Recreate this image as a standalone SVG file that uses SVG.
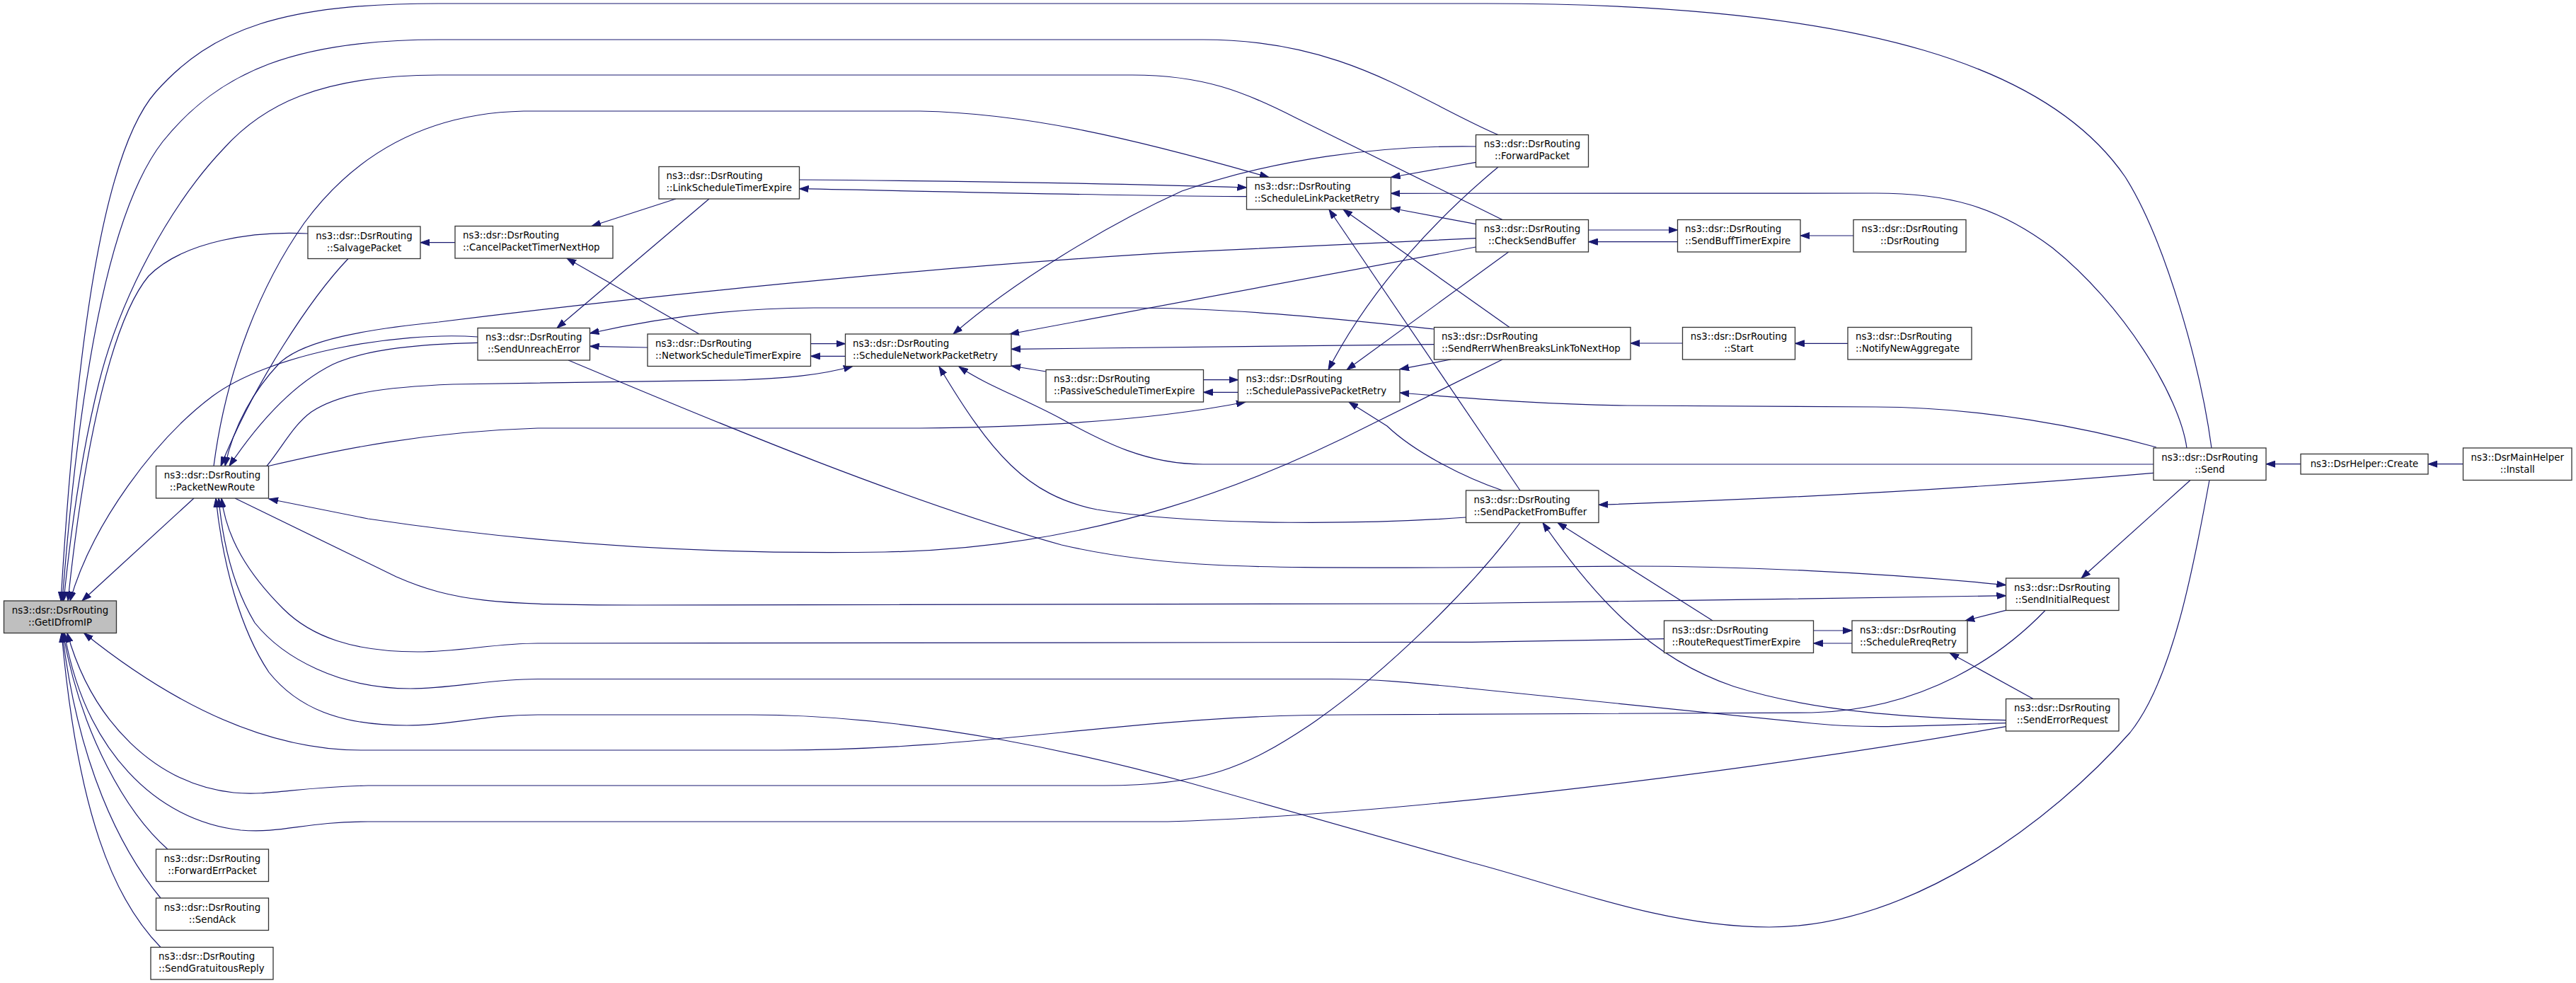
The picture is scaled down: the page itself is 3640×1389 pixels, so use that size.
<svg xmlns="http://www.w3.org/2000/svg" width="3640" height="1389" viewBox="0 0 3640 1389">
<defs>
<style>
.n rect{fill:#fff;stroke:#333;stroke-width:1.3}
.n rect.hl{fill:#bfbfbf}
.n text{font-family:"DejaVu Sans","Liberation Sans",sans-serif;font-size:13.33px;fill:#000}
.c{text-anchor:middle}
.l{text-anchor:start}
.e{fill:none;stroke:#191970;stroke-width:1.2;marker-end:url(#a)}
</style>
<marker id="a" markerWidth="14" markerHeight="10" refX="13" refY="5" orient="auto" markerUnits="userSpaceOnUse"><path d="M0,0.5 L13,5 L0,9.5 z" fill="#191970" stroke="#191970" stroke-width="1"/></marker>
</defs>
<rect x="0" y="0" width="3640" height="1389" fill="#fff"/>
<g id="edges">
<path class="e" d="M274,704 L116,849"/>
<path class="e" d="M435,330 C360,326 260,340 210,390 C160,450 120,620 96,849"/>
<path class="e" d="M675,476 C560,468 380,500 300,560 C220,620 130,740 99,849"/>
<path class="e" d="M3125,633 C3110,520 3060,340 3003,250 C2900,100 2650,5 2100,5 L620,5 C400,5 300,40 220,130 C150,210 110,450 86,849"/>
<path class="e" d="M2117,190.5 C2000,140 1900,56 1700,56 L620,56 C420,56 310,100 230,200 C160,290 115,500 88,849"/>
<path class="e" d="M2123,310.5 L1830,166 C1760,130 1700,106 1600,106 L620,106 C450,106 370,150 316,210 C240,290 170,420 140,540 C115,640 100,750 90,849"/>
<path class="e" d="M237,1200 C180,1150 115,1040 89,894.5"/>
<path class="e" d="M227,1269 C170,1200 110,1080 88,894.5"/>
<path class="e" d="M227,1338.5 C160,1270 110,1150 87,894.5"/>
<path class="e" d="M2890,862.5 C2830,925 2720,1003 2560,1007 L1900,1010 C1600,1010 1400,1060 1100,1060 L510,1060 C380,1060 250,1000 118.6,894.5"/>
<path class="e" d="M2148,738.5 C2080,830 1960,950 1850,1025 C1760,1085 1700,1110 1560,1110 L520,1110 C420,1112 380,1125 330,1120 C220,1108 130,1020 95,894.5"/>
<path class="e" d="M2834.5,1026.7 C2500,1085 2000,1150 1650,1161 L520,1161 C430,1161 400,1178 340,1173 C220,1160 120,1060 91,894.5"/>
<path class="e" d="M2351.5,902.7 L2080,907.4 L760,909 C700,909 650,921 590,921 C500,921 440,900 400,860 C350,810 320,760 313,704"/>
<path class="e" d="M2834.5,1021.7 C2700,1026 2640,1030 2560,1022 L2080,973 C2000,965 1950,959.5 1880,959.5 L760,959.5 C690,959.5 640,973 580,973 C480,973 400,930 360,880 C330,830 315,770 309,704"/>
<path class="e" d="M3122,678.5 C3100,800 3070,960 3010,1035 C2900,1160 2700,1310 2500,1310 C2350,1310 2200,1250 2080,1219 L1680,1106 C1550,1070 1300,1010 1060,1010 L760,1010 C680,1010 640,1025 575,1025 C480,1025 420,1000 380,950 C340,890 315,800 305,704"/>
<path class="e" d="M2123,508 L1937,600 C1780,680 1550,775 1250,780 C950,785 700,760 520,733 L380,705"/>
<path class="e" d="M2071.5,731 C1950,740 1700,745 1550,720 C1450,700 1400,640 1327,518"/>
<path class="e" d="M3043,656 L1700,656 C1620,656 1560,625 1500,592 C1440,560 1395,545 1355,518"/>
<path class="e" d="M3043,668.3 C2850,685 2600,702 2259,713.3"/>
<path class="e" d="M3047,632 C2950,605 2800,575 2650,575 L2300,573 C2200,572 2100,565 1978,555"/>
<path class="e" d="M3090,633 C3080,560 3000,430 2900,350 C2820,290 2750,273 2650,273 L1965.5,273.3"/>
<path class="e" d="M3095,678.5 L2941,817"/>
<path class="e" d="M2834.5,862.3 L2777,877"/>
<path class="e" d="M2562.5,891 L2617,891"/>
<path class="e" d="M2617,909 L2562.5,909"/>
<path class="e" d="M2873,987.5 L2755,922.5"/>
<path class="e" d="M2420,877 L2201,738.5"/>
<path class="e" d="M2834.5,1017.7 C2700,1015 2560,1005 2450,970 C2330,930 2250,840 2180,738.5"/>
<path class="e" d="M2148,693 L1878,296"/>
<path class="e" d="M2123,693 C2070,675 2000,640 1960,602 L1906,568"/>
<path class="e" d="M2133,462.5 L1898,296"/>
<path class="e" d="M2085.5,316.7 L1965.5,294"/>
<path class="e" d="M2085.5,229.3 L1965.5,250.5"/>
<path class="e" d="M2085.5,207 C1950,205 1800,225 1670,270 C1560,320 1430,400 1347,472"/>
<path class="e" d="M2117,236 C2040,300 1940,400 1877,522.5"/>
<path class="e" d="M2085.5,349 L1427,472"/>
<path class="e" d="M2085.5,336.7 L1660,356.7 C1300,378 900,420 620,455 C520,465 430,480 395,513 C360,550 330,600 318,658.5"/>
<path class="e" d="M2131.7,356 L1903,522.5"/>
<path class="e" d="M2244.5,325 L2370.5,325"/>
<path class="e" d="M2370.5,341.7 L2244.5,341.7"/>
<path class="e" d="M2619,333 L2544,333"/>
<path class="e" d="M2377.5,485 L2304,485"/>
<path class="e" d="M2611,485.3 L2536.5,485.3"/>
<path class="e" d="M3251,655.7 L3202,655.7"/>
<path class="e" d="M3480.5,655.7 L3431,655.7"/>
<path class="e" d="M2026.5,465 C1900,452 1750,435 1600,435 L1150,435 C1050,435 950,445 833.5,471"/>
<path class="e" d="M2026.5,486.7 L1429,493.3"/>
<path class="e" d="M2050,508 L1978,521.7"/>
<path class="e" d="M1478,525 L1429,517"/>
<path class="e" d="M1700.5,536.7 L1749.5,536.7"/>
<path class="e" d="M1749.5,554.3 L1700.5,554.3"/>
<path class="e" d="M379.5,658.5 C480,635 600,610 760,605 L1300,605 C1500,603 1650,590 1760,568"/>
<path class="e" d="M377,658.5 C400,630 415,600 440,582 C480,556 540,547 640,543 L1040,537 C1110,535 1160,530 1205,517.5"/>
<path class="e" d="M302,658.5 C320,520 370,400 430,315 C500,220 600,160 740,157 L1300,157 C1450,160 1600,195 1793,250.5"/>
<path class="e" d="M492,365.5 C440,420 360,540 312,658.5"/>
<path class="e" d="M643,342.7 L594,342.7"/>
<path class="e" d="M955,281 L836,319.5"/>
<path class="e" d="M1002,281 L787,463.5"/>
<path class="e" d="M988,472 L801,365"/>
<path class="e" d="M915,491 L833.5,489.3"/>
<path class="e" d="M1129.5,254 C1400,256 1600,260 1761.5,265"/>
<path class="e" d="M1761.5,277.7 C1600,277 1400,272 1129.5,266.7"/>
<path class="e" d="M1145.5,485.7 L1194.5,485.7"/>
<path class="e" d="M1194.5,503.3 L1145.5,503.3"/>
<path class="e" d="M803,509 C950,570 1250,700 1500,770 C1650,805 1800,802 2040,802 L2300,800 C2450,800 2650,808 2834.5,826.7"/>
<path class="e" d="M675,484.3 C600,486 520,492 470,515 C420,540 370,590 324,658.5"/>
<path class="e" d="M332,704 L560,815 C640,850 700,855 900,855 L2040,853 C2300,850 2600,845 2834.5,841.7"/>
</g>
<g id="node-GetIDfromIP" class="n"><rect class="hl" x="5.5" y="849" width="159" height="45.5"/><text class="c" x="85" y="866.8">ns3::dsr::DsrRouting</text><text class="c" x="85" y="883.8">::GetIDfromIP</text></g>
<g id="node-PacketNewRoute" class="n"><rect x="220.5" y="658.5" width="159" height="45.5"/><text class="c" x="300" y="676.3">ns3::dsr::DsrRouting</text><text class="c" x="300" y="693.3">::PacketNewRoute</text></g>
<g id="node-ForwardErrPacket" class="n"><rect x="220.5" y="1200" width="159" height="45.5"/><text class="c" x="300" y="1217.8">ns3::dsr::DsrRouting</text><text class="c" x="300" y="1234.8">::ForwardErrPacket</text></g>
<g id="node-SendAck" class="n"><rect x="220.5" y="1269" width="159" height="45.5"/><text class="c" x="300" y="1286.8">ns3::dsr::DsrRouting</text><text class="c" x="300" y="1303.8">::SendAck</text></g>
<g id="node-SendGratuitousReply" class="n"><rect x="213" y="1338.5" width="173" height="45.5"/><text class="l" x="224" y="1356.3">ns3::dsr::DsrRouting</text><text class="l" x="224" y="1373.3">::SendGratuitousReply</text></g>
<g id="node-SalvagePacket" class="n"><rect x="435" y="320" width="159" height="45.5"/><text class="c" x="514.5" y="337.8">ns3::dsr::DsrRouting</text><text class="c" x="514.5" y="354.8">::SalvagePacket</text></g>
<g id="node-CancelPacketTimerNextHop" class="n"><rect x="643" y="319.5" width="223" height="45.5"/><text class="l" x="654" y="337.3">ns3::dsr::DsrRouting</text><text class="l" x="654" y="354.3">::CancelPacketTimerNextHop</text></g>
<g id="node-SendUnreachError" class="n"><rect x="675" y="463.5" width="158.5" height="45.5"/><text class="c" x="754.25" y="481.3">ns3::dsr::DsrRouting</text><text class="c" x="754.25" y="498.3">::SendUnreachError</text></g>
<g id="node-LinkScheduleTimerExpire" class="n"><rect x="931" y="235.5" width="198.5" height="45.5"/><text class="l" x="941.5" y="253.3">ns3::dsr::DsrRouting</text><text class="l" x="941.5" y="270.3">::LinkScheduleTimerExpire</text></g>
<g id="node-NetworkScheduleTimerExpire" class="n"><rect x="915" y="472" width="230.5" height="45.5"/><text class="l" x="926" y="489.8">ns3::dsr::DsrRouting</text><text class="l" x="926" y="506.8">::NetworkScheduleTimerExpire</text></g>
<g id="node-ScheduleNetworkPacketRetry" class="n"><rect x="1194.5" y="472" width="234.5" height="45.5"/><text class="l" x="1205" y="489.8">ns3::dsr::DsrRouting</text><text class="l" x="1205" y="506.8">::ScheduleNetworkPacketRetry</text></g>
<g id="node-PassiveScheduleTimerExpire" class="n"><rect x="1478" y="522.5" width="222.5" height="45.5"/><text class="l" x="1489" y="540.3">ns3::dsr::DsrRouting</text><text class="l" x="1489" y="557.3">::PassiveScheduleTimerExpire</text></g>
<g id="node-ScheduleLinkPacketRetry" class="n"><rect x="1761.5" y="250.5" width="204" height="45.5"/><text class="l" x="1772.5" y="268.3">ns3::dsr::DsrRouting</text><text class="l" x="1772.5" y="285.3">::ScheduleLinkPacketRetry</text></g>
<g id="node-SchedulePassivePacketRetry" class="n"><rect x="1749.5" y="522.5" width="228.5" height="45.5"/><text class="l" x="1760.5" y="540.3">ns3::dsr::DsrRouting</text><text class="l" x="1760.5" y="557.3">::SchedulePassivePacketRetry</text></g>
<g id="node-ForwardPacket" class="n"><rect x="2085.5" y="190.5" width="159" height="45.5"/><text class="c" x="2165" y="208.3">ns3::dsr::DsrRouting</text><text class="c" x="2165" y="225.3">::ForwardPacket</text></g>
<g id="node-CheckSendBuffer" class="n"><rect x="2085.5" y="310.5" width="159" height="45.5"/><text class="c" x="2165" y="328.3">ns3::dsr::DsrRouting</text><text class="c" x="2165" y="345.3">::CheckSendBuffer</text></g>
<g id="node-SendRerrWhenBreaksLinkToNextHop" class="n"><rect x="2026.5" y="462.5" width="277.5" height="45.5"/><text class="l" x="2037" y="480.3">ns3::dsr::DsrRouting</text><text class="l" x="2037" y="497.3">::SendRerrWhenBreaksLinkToNextHop</text></g>
<g id="node-SendPacketFromBuffer" class="n"><rect x="2071.5" y="693" width="187.5" height="45.5"/><text class="l" x="2082.5" y="710.8">ns3::dsr::DsrRouting</text><text class="l" x="2082.5" y="727.8">::SendPacketFromBuffer</text></g>
<g id="node-SendBuffTimerExpire" class="n"><rect x="2370.5" y="310.5" width="173.5" height="45.5"/><text class="l" x="2381" y="328.3">ns3::dsr::DsrRouting</text><text class="l" x="2381" y="345.3">::SendBuffTimerExpire</text></g>
<g id="node-DsrRouting" class="n"><rect x="2619" y="310.5" width="159" height="45.5"/><text class="c" x="2698.5" y="328.3">ns3::dsr::DsrRouting</text><text class="c" x="2698.5" y="345.3">::DsrRouting</text></g>
<g id="node-Start" class="n"><rect x="2377.5" y="462.5" width="159" height="45.5"/><text class="c" x="2457" y="480.3">ns3::dsr::DsrRouting</text><text class="c" x="2457" y="497.3">::Start</text></g>
<g id="node-NotifyNewAggregate" class="n"><rect x="2611" y="462.5" width="175" height="45.5"/><text class="l" x="2622" y="480.3">ns3::dsr::DsrRouting</text><text class="l" x="2622" y="497.3">::NotifyNewAggregate</text></g>
<g id="node-RouteRequestTimerExpire" class="n"><rect x="2351.5" y="877" width="211" height="45.5"/><text class="l" x="2362.5" y="894.8">ns3::dsr::DsrRouting</text><text class="l" x="2362.5" y="911.8">::RouteRequestTimerExpire</text></g>
<g id="node-ScheduleRreqRetry" class="n"><rect x="2617" y="877" width="163" height="45.5"/><text class="l" x="2628" y="894.8">ns3::dsr::DsrRouting</text><text class="l" x="2628" y="911.8">::ScheduleRreqRetry</text></g>
<g id="node-SendInitialRequest" class="n"><rect x="2834.5" y="817" width="159.5" height="45.5"/><text class="c" x="2914.25" y="834.8">ns3::dsr::DsrRouting</text><text class="c" x="2914.25" y="851.8">::SendInitialRequest</text></g>
<g id="node-SendErrorRequest" class="n"><rect x="2834.5" y="987.5" width="159.5" height="45.5"/><text class="c" x="2914.25" y="1005.3">ns3::dsr::DsrRouting</text><text class="c" x="2914.25" y="1022.3">::SendErrorRequest</text></g>
<g id="node-Send" class="n"><rect x="3043" y="633" width="159" height="45.5"/><text class="c" x="3122.5" y="650.8">ns3::dsr::DsrRouting</text><text class="c" x="3122.5" y="667.8">::Send</text></g>
<g id="node-DsrHelper-Create" class="n"><rect x="3251" y="641.5" width="180" height="28.5"/><text class="c" x="3341" y="660.3">ns3::DsrHelper::Create</text></g>
<g id="node-DsrMainHelper-Install" class="n"><rect x="3480.5" y="633" width="153.5" height="45.5"/><text class="c" x="3557.25" y="650.8">ns3::DsrMainHelper</text><text class="c" x="3557.25" y="667.8">::Install</text></g>
</svg>
